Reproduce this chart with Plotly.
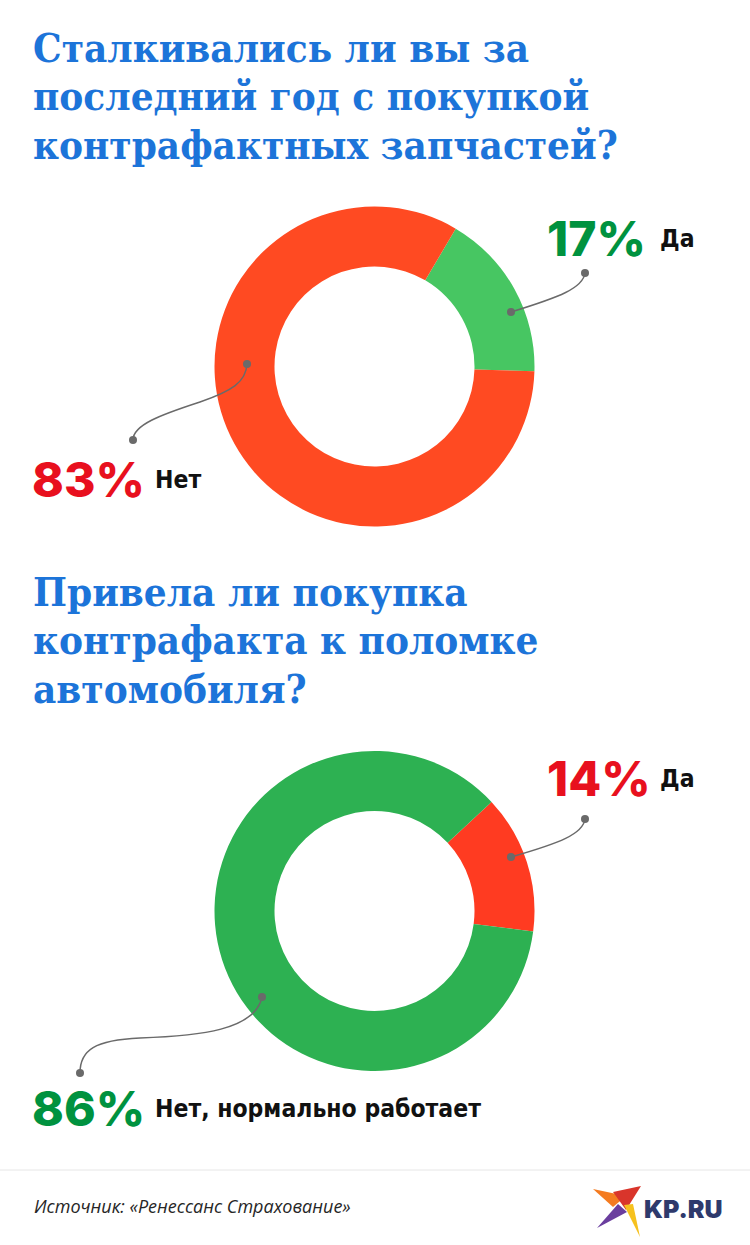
import plotly.graph_objects as go

# ---- data ----
title1_lines = ["Сталкивались ли вы за", "последний год с покупкой", "контрафактных запчастей?"]
q1_labels = ["Да", "Нет"]
q1_values = [17, 83]

title2_lines = ["Привела ли покупка", "контрафакта к поломке", "автомобиля?"]
q2_labels = ["Да", "Нет, нормально работает"]
q2_values = [14, 86]

source_text = "Источник: «Ренессанс Страхование»"
brand_text = "KP.RU"

# ---- styling ----
W, H = 750, 1245
BLUE = "#1C74D9"
GREEN_TXT = "#00923F"
RED_TXT = "#E8101E"
TITLE_FONT = "DejaVu Serif Condensed, DejaVu Serif, serif"
NUM_FONT = "Inter, Lato, Open Sans, sans-serif"
LBL_FONT = "DejaVu Sans Condensed, DejaVu Sans, sans-serif"
LEADER = "#6A6A6A"


def dom(cx, cy, r):
    return dict(x=[(cx - r) / W, (cx + r) / W], y=[(H - cy - r) / H, (H - cy + r) / H])


fig = go.Figure()

fig.add_trace(go.Pie(
    values=q1_values, labels=q1_labels, hole=0.625, sort=False,
    direction="clockwise", rotation=30.5, textinfo="none", hoverinfo="label+percent",
    marker=dict(colors=["#47C662", "#FF4A22"], line=dict(width=0)),
    domain=dom(374.5, 366.5, 160), showlegend=False,
))
fig.add_trace(go.Pie(
    values=q2_values, labels=q2_labels, hole=0.625, sort=False,
    direction="clockwise", rotation=47, textinfo="none", hoverinfo="label+percent",
    marker=dict(colors=["#FF3B21", "#2DB152"], line=dict(width=0)),
    domain=dom(374.5, 911, 160), showlegend=False,
))

# invisible pixel-space axes for annotations / shapes
fig.add_trace(go.Scatter(x=[0, W], y=[0, H], mode="markers", marker=dict(opacity=0),
                         hoverinfo="skip", showlegend=False))

ann = []
# titles
for i, t in enumerate(title1_lines):
    ann.append(dict(x=31, y=47 + i * 48.5, text=t, xanchor="left", yanchor="middle",
                    font=dict(family=TITLE_FONT, size=40, color=BLUE, weight=900)))
for i, t in enumerate(title2_lines):
    ann.append(dict(x=31, y=591 + i * 48.5, text=t, xanchor="left", yanchor="middle",
                    font=dict(family=TITLE_FONT, size=40, color=BLUE, weight=900)))

# values & labels
def pct_label(x, y, v, color, lab, off):
    ann.append(dict(x=x, y=y, text=f"{v}%", xanchor="left", yanchor="middle",
                    font=dict(family=NUM_FONT, size=48, color=color, weight=800)))
    ann.append(dict(x=x + off, y=y, text=lab, xanchor="left", yanchor="middle",
                    font=dict(family=LBL_FONT, size=24.5, color="#111111", weight="bold")))

pct_label(545, 238, q1_values[0], GREEN_TXT, q1_labels[0], 113)
pct_label(30, 479, q1_values[1], RED_TXT, q1_labels[1], 123)
pct_label(545, 778, q2_values[0], RED_TXT, q2_labels[0], 113)
pct_label(30, 1108, q2_values[1], GREEN_TXT, q2_labels[1], 123)

ann.append(dict(x=32, y=1206, text=source_text, xanchor="left", yanchor="middle",
                font=dict(family="Open Sans, Liberation Sans, sans-serif", size=18,
                          color="#262626", style="italic")))
ann.append(dict(x=642, y=1209, text=brand_text, xanchor="left", yanchor="middle",
                font=dict(family="Inter, Liberation Sans, sans-serif", size=25,
                          color="#2E3A6C", weight=900)))
for a in ann:
    a.update(xref="x", yref="y", showarrow=False)

shapes = []
def curve(path):
    shapes.append(dict(type="path", path=path, xref="x", yref="y",
                       line=dict(color=LEADER, width=1.5)))
def dot(x, y, r=4):
    shapes.append(dict(type="circle", xref="x", yref="y", x0=x - r, x1=x + r, y0=y - r, y1=y + r,
                       fillcolor=LEADER, line=dict(width=0)))

curve("M 585,273 C 583,288 560,297 511,312")
dot(585, 273); dot(511, 312)
curve("M 133,440 C 133,425 160,415 200,402 C 232,391 246,382 247,364")
dot(133, 440); dot(247, 364)
curve("M 585,819 C 583,834 560,843 511,857")
dot(585, 819); dot(511, 857)
curve("M 80,1073 C 80,1050 95,1040 140,1038 C 200,1036 255,1030 262,997")
dot(80, 1073); dot(262, 997)

# divider
shapes.append(dict(type="line", xref="x", yref="y", x0=0, x1=W, y0=1170, y1=1170,
                   line=dict(color="#E6E6E6", width=1)))

# logo bird
def poly(pts, color):
    p = "M " + " L ".join(f"{a},{b}" for a, b in pts) + " Z"
    shapes.append(dict(type="path", path=p, xref="x", yref="y", fillcolor=color,
                       line=dict(width=0)))
poly([(593, 1189), (626, 1196), (613, 1207)], "#F47B20")
poly([(613, 1192), (641, 1186), (626, 1210)], "#D9352B")
poly([(618, 1204), (597, 1228), (627, 1212)], "#6A3E9E")
poly([(624, 1205), (640, 1237), (633, 1204)], "#F6C11E")

fig.update_layout(
    width=W, height=H, margin=dict(l=0, r=0, t=0, b=0),
    paper_bgcolor="white", plot_bgcolor="rgba(0,0,0,0)",
    xaxis=dict(range=[0, W], visible=False, domain=[0, 1], fixedrange=True),
    yaxis=dict(range=[H, 0], visible=False, domain=[0, 1], fixedrange=True),
    annotations=ann, shapes=shapes, showlegend=False,
)
fig.write_html("out.html")
